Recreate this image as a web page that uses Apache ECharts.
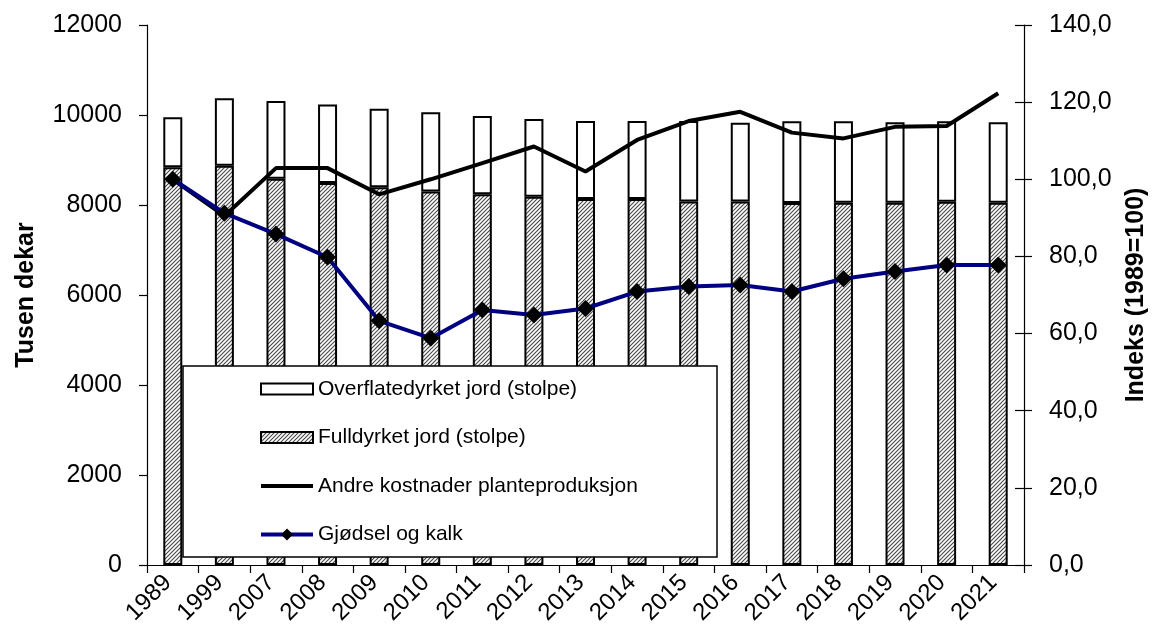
<!DOCTYPE html>
<html>
<head>
<meta charset="utf-8">
<script src="https://cdn.jsdelivr.net/npm/echarts@6/dist/echarts.min.js"></script>
<style>
  html, body { margin: 0; padding: 0; background: #fff; }
  #chart { width: 1153px; height: 627px; }
</style>
</head>
<body>
<div id="chart"></div>
<script>
// Years on the category axis
const years = ['1989', '1999', '2007', '2008', '2009', '2010', '2011', '2012', '2013',
               '2014', '2015', '2016', '2017', '2018', '2019', '2020', '2021'];
// Area, thousand decares (stacked bars)
const fulldyrket = [8840, 8870, 8585, 8490, 8395, 8300, 8240, 8185, 8135,
                    8135, 8080, 8080, 8045, 8050, 8050, 8075, 8050];
const overflatedyrket = [1110, 1500, 1725, 1745, 1745, 1760, 1740, 1725, 1730,
                         1730, 1785, 1750, 1815, 1810, 1790, 1785, 1790];
// Cost indices, 1989 = 100
const andreKostnader = [100, 90.5, 102.9, 102.9, 96.1, 100.0, 104.2, 108.5, 102.0,
                        110.2, 115.1, 117.5, 112.1, 110.6, 113.6, 113.8, 122.3];
const gjodselKalk = [100, 91.2, 85.8, 79.8, 63.3, 58.8, 66.1, 64.8, 66.5,
                     70.9, 72.2, 72.6, 70.9, 74.2, 76.1, 77.8, 77.8];
// Axis ticks
const leftTicks = { min: 0, max: 12000, interval: 2000 };
const rightTicks = { min: 0, max: 140, interval: 20 };

const FONT = '"Liberation Sans", Arial, sans-serif';

// Diagonal hatch tile for the fully cultivated area
function hatchPattern() {
  const n = 4;
  const c = document.createElement('canvas');
  c.width = n; c.height = n;
  const g = c.getContext('2d');
  g.fillStyle = '#ffffff';
  g.fillRect(0, 0, n, n);
  g.strokeStyle = '#4a4a4a';
  g.lineWidth = 1.15;
  g.beginPath();
  g.moveTo(0, n); g.lineTo(n, 0);
  g.moveTo(-1, 1); g.lineTo(1, -1);
  g.moveTo(n - 1, n + 1); g.lineTo(n + 1, n - 1);
  g.stroke();
  return { image: c, repeat: 'repeat' };
}

const chart = echarts.init(document.getElementById('chart'), null, { renderer: 'canvas' });

const axisLine = { show: true, lineStyle: { color: '#000', width: 1.2 } };
const tickStyle = { color: '#000', width: 1.2 };
// flat box icon for the bar entries in the legend
const barIcon = 'path://M0,0h52v11h-52z';

chart.setOption({
  animation: false,
  backgroundColor: '#fff',
  textStyle: { fontFamily: FONT },
  grid: { left: 147, right: 129, top: 25, bottom: 62, containLabel: false, outerBoundsMode: 'none' },
  xAxis: {
    type: 'category',
    data: years,
    boundaryGap: true,
    axisLine: axisLine,
    axisTick: { show: true, alignWithLabel: false, length: 8, lineStyle: tickStyle },
    axisLabel: { rotate: 45, margin: 9, fontSize: 24, color: '#000', fontFamily: FONT,
                 interval: 0, padding: [0, 7, 0, 0] }
  },
  yAxis: [
    {
      type: 'value', position: 'left',
      min: leftTicks.min, max: leftTicks.max, interval: leftTicks.interval,
      name: 'Tusen dekar', nameLocation: 'middle', nameGap: 108,
      nameTextStyle: { fontSize: 25, fontWeight: 'bold', color: '#000', fontFamily: FONT },
      axisLine: axisLine,
      axisTick: { show: true, length: 8, lineStyle: tickStyle },
      axisLabel: { fontSize: 25, color: '#000', margin: 25, fontFamily: FONT,
                   formatter: v => String(v) },
      splitLine: { show: false }
    },
    {
      type: 'value', position: 'right',
      min: rightTicks.min, max: rightTicks.max, interval: rightTicks.interval,
      name: 'Indeks (1989=100)', nameLocation: 'middle', nameGap: 100,
      nameTextStyle: { fontSize: 25, fontWeight: 'bold', color: '#000', fontFamily: FONT },
      axisLine: axisLine,
      axisTick: { show: true, length: 8, lineStyle: tickStyle },
      axisLabel: { fontSize: 25, color: '#000', margin: 25, fontFamily: FONT,
                   formatter: v => v.toFixed(1).replace('.', ',') },
      splitLine: { show: false }
    },
    {
      // inner half of the crossing ticks on the right axis
      type: 'value', position: 'right',
      min: rightTicks.min, max: rightTicks.max, interval: rightTicks.interval,
      axisLine: { show: false },
      axisTick: { show: true, inside: true, length: 9, lineStyle: tickStyle },
      axisLabel: { show: false },
      splitLine: { show: false }
    }
  ],
  legend: {
    orient: 'vertical',
    left: 259, top: 377,
    padding: 0,
    itemWidth: 52, itemHeight: 15,
    itemGap: 24.5,
    symbolKeepAspect: true,
    textStyle: { fontSize: 21, color: '#000', fontFamily: FONT, lineHeight: 24 },
    data: [
      { name: 'Overflatedyrket jord (stolpe)', icon: barIcon },
      { name: 'Fulldyrket jord (stolpe)', icon: barIcon },
      { name: 'Andre kostnader planteproduksjon',
        itemStyle: { color: 'rgba(0,0,0,0)', borderWidth: 0 },
        lineStyle: { width: 4, color: '#000' } },
      { name: 'Gjødsel og kalk',
        itemStyle: { color: '#000', borderWidth: 0 },
        lineStyle: { width: 4, color: '#000080' } }
    ],
    z: 10
  },
  graphic: [
    {
      type: 'rect', z: 5,
      shape: { x: 183, y: 366, width: 534, height: 191 },
      style: { fill: '#fff', stroke: '#000', lineWidth: 1.5 }
    }
  ],
  series: [
    {
      name: 'Fulldyrket jord (stolpe)', type: 'bar', stack: 'areal',
      data: fulldyrket, barWidth: 19,
      itemStyle: { color: hatchPattern(), borderColor: '#000', borderWidth: 2 }
    },
    {
      name: 'Overflatedyrket jord (stolpe)', type: 'bar', stack: 'areal',
      data: overflatedyrket, barWidth: 19,
      itemStyle: { color: '#fff', borderColor: '#000', borderWidth: 2 }
    },
    {
      name: 'Andre kostnader planteproduksjon', type: 'line', yAxisIndex: 1,
      data: andreKostnader, symbol: 'none', z: 3,
      lineStyle: { color: '#000', width: 4 },
      itemStyle: { color: '#000' }
    },
    {
      name: 'Gjødsel og kalk', type: 'line', yAxisIndex: 1,
      data: gjodselKalk, symbol: 'diamond', symbolSize: 17, z: 4,
      lineStyle: { color: '#000080', width: 4 },
      itemStyle: { color: '#000', borderWidth: 0 }
    }
  ]
});
</script>
</body>
</html>
